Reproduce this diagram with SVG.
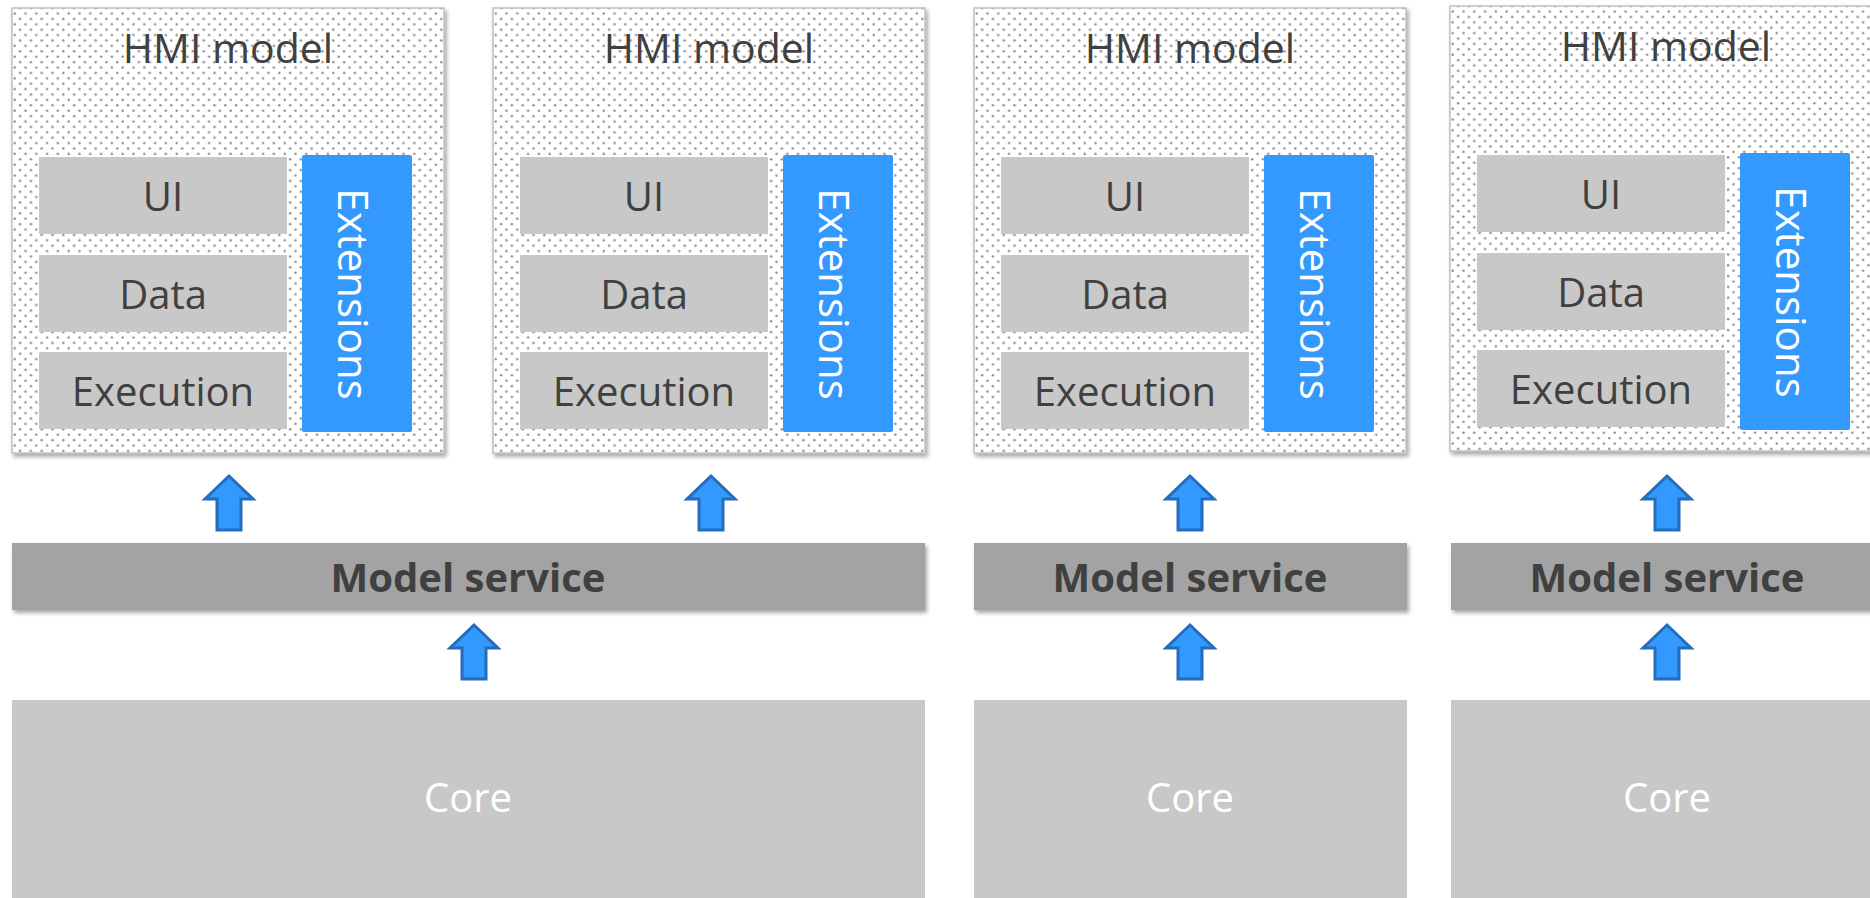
<svg xmlns="http://www.w3.org/2000/svg" width="1870" height="898" viewBox="0 0 1870 898">
  <defs>
    <!-- fine dotted fill used by the HMI model frames -->
    <pattern id="dots" width="10.8" height="10.8" patternUnits="userSpaceOnUse">
      <rect width="10.8" height="10.8" fill="#ffffff"/>
      <circle cx="2.7" cy="2.7" r="1.25" fill="#8e8e8e"/>
      <circle cx="8.1" cy="8.1" r="1.25" fill="#8e8e8e"/>
    </pattern>
    <filter id="shadow" x="-5%" y="-5%" width="112%" height="115%">
      <feDropShadow dx="2" dy="3" stdDeviation="2.2" flood-color="#000" flood-opacity="0.35"/>
    </filter>
    <!-- upward block arrow, tip at origin -->
    <path id="upArrow" d="M0,0 L24,23 L12,23 L12,54 L-12,54 L-12,23 L-24,23 Z"/>
  </defs>
  <style>
    .frame { fill: url(#dots); stroke: #c0c0c0; stroke-width: 1.5; filter: url(#shadow); }
    .layer { fill: #c8c8c8; }
    .ext { fill: #3399ff; }
    .bar { fill: #a3a3a3; filter: url(#shadow); }
    .core { fill: #c8c8c8; }
    .arrow { fill: #3399ff; stroke: #246cbc; stroke-width: 3; stroke-linejoin: miter; }
    text { font-family: "Open Sans", "Noto Sans", "Liberation Sans", sans-serif; font-size: 40px; text-anchor: middle; }
    .dark { fill: #404040; }
    .title { font-size: 41px; }
    .bold { font-weight: bold; }
    .light { fill: #ffffff; }
    .vert { font-size: 42px; }
  </style>

  <!-- HMI model frames -->
  <g id="hmi1" transform="translate(12,0)">
    <rect class="frame" x="0" y="8" width="432" height="445"/>
    <text class="dark title" x="216" y="63">HMI model</text>
    <rect class="layer" x="27" y="157" width="248" height="77"/>
    <text class="dark" x="151" y="211">UI</text>
    <rect class="layer" x="27" y="255" width="248" height="77"/>
    <text class="dark" x="151" y="309">Data</text>
    <rect class="layer" x="27" y="352" width="248" height="77"/>
    <text class="dark" x="151" y="406">Execution</text>
    <rect class="ext" x="290" y="155" width="110" height="277" rx="2"/>
    <text class="light vert" transform="translate(326,294) rotate(90)">Extensions</text>
  </g>
  <g id="hmi2" transform="translate(493,0)">
    <rect class="frame" x="0" y="8" width="432" height="445"/>
    <text class="dark title" x="216" y="63">HMI model</text>
    <rect class="layer" x="27" y="157" width="248" height="77"/>
    <text class="dark" x="151" y="211">UI</text>
    <rect class="layer" x="27" y="255" width="248" height="77"/>
    <text class="dark" x="151" y="309">Data</text>
    <rect class="layer" x="27" y="352" width="248" height="77"/>
    <text class="dark" x="151" y="406">Execution</text>
    <rect class="ext" x="290" y="155" width="110" height="277" rx="2"/>
    <text class="light vert" transform="translate(326,294) rotate(90)">Extensions</text>
  </g>
  <g id="hmi3" transform="translate(974,0)">
    <rect class="frame" x="0" y="8" width="432" height="445"/>
    <text class="dark title" x="216" y="63">HMI model</text>
    <rect class="layer" x="27" y="157" width="248" height="77"/>
    <text class="dark" x="151" y="211">UI</text>
    <rect class="layer" x="27" y="255" width="248" height="77"/>
    <text class="dark" x="151" y="309">Data</text>
    <rect class="layer" x="27" y="352" width="248" height="77"/>
    <text class="dark" x="151" y="406">Execution</text>
    <rect class="ext" x="290" y="155" width="110" height="277" rx="2"/>
    <text class="light vert" transform="translate(326,294) rotate(90)">Extensions</text>
  </g>
  <g id="hmi4" transform="translate(1450,-2)">
    <rect class="frame" x="0" y="8" width="432" height="445"/>
    <text class="dark title" x="216" y="63">HMI model</text>
    <rect class="layer" x="27" y="157" width="248" height="77"/>
    <text class="dark" x="151" y="211">UI</text>
    <rect class="layer" x="27" y="255" width="248" height="77"/>
    <text class="dark" x="151" y="309">Data</text>
    <rect class="layer" x="27" y="352" width="248" height="77"/>
    <text class="dark" x="151" y="406">Execution</text>
    <rect class="ext" x="290" y="155" width="110" height="277" rx="2"/>
    <text class="light vert" transform="translate(326,294) rotate(90)">Extensions</text>
  </g>

  <!-- Model service bars -->
  <g id="service1">
    <rect class="bar" x="12" y="543" width="913" height="67"/>
    <text class="dark bold" x="468" y="592">Model service</text>
  </g>
  <g id="service2">
    <rect class="bar" x="974" y="543" width="433" height="67"/>
    <text class="dark bold" x="1190" y="592">Model service</text>
  </g>
  <g id="service3">
    <rect class="bar" x="1451" y="543" width="433" height="67"/>
    <text class="dark bold" x="1667" y="592">Model service</text>
  </g>

  <!-- Core blocks -->
  <g id="core1">
    <rect class="core" x="12" y="700" width="913" height="200"/>
    <text class="light" x="468" y="812">Core</text>
  </g>
  <g id="core2">
    <rect class="core" x="974" y="700" width="433" height="200"/>
    <text class="light" x="1190" y="812">Core</text>
  </g>
  <g id="core3">
    <rect class="core" x="1451" y="700" width="433" height="200"/>
    <text class="light" x="1667" y="812">Core</text>
  </g>

  <!-- connectors: upward block arrows -->
  <g id="connectors">
    <use href="#upArrow" class="arrow" x="229" y="476"/>
    <use href="#upArrow" class="arrow" x="711" y="476"/>
    <use href="#upArrow" class="arrow" x="1190" y="476"/>
    <use href="#upArrow" class="arrow" x="1667" y="476"/>
    <use href="#upArrow" class="arrow" x="474" y="625"/>
    <use href="#upArrow" class="arrow" x="1190" y="625"/>
    <use href="#upArrow" class="arrow" x="1667" y="625"/>
  </g>
</svg>
